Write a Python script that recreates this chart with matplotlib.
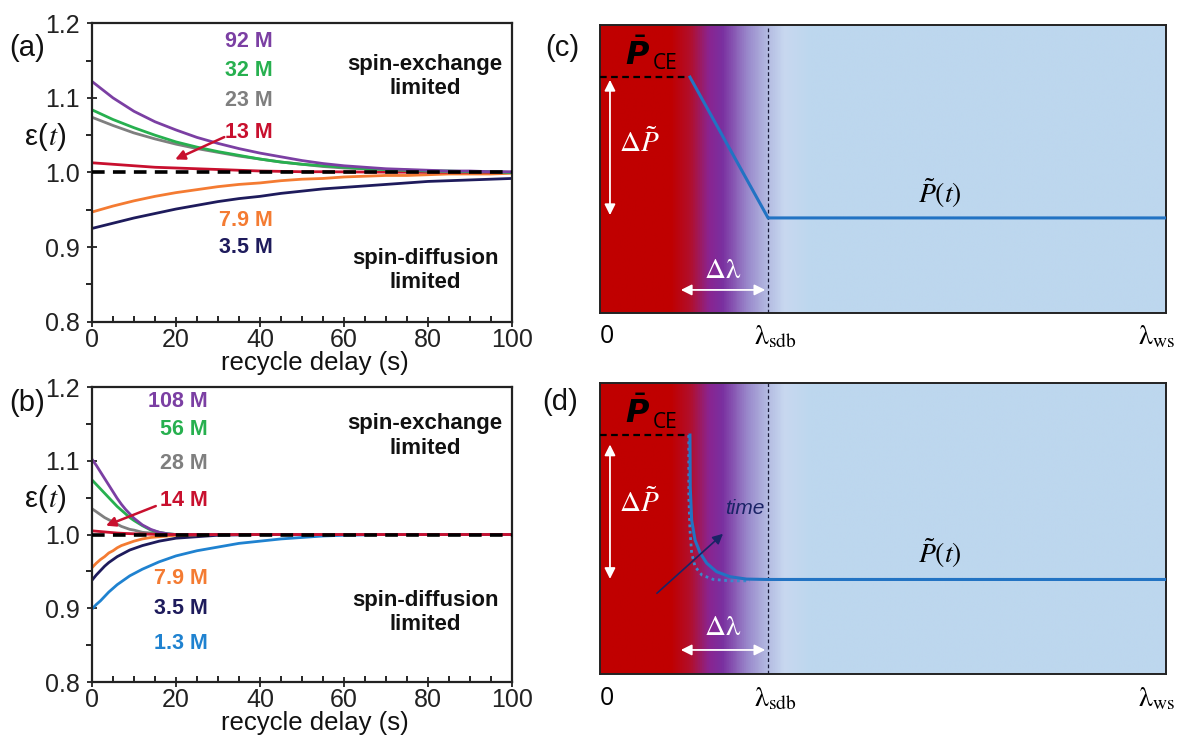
import matplotlib
matplotlib.use("Agg")
import matplotlib.pyplot as plt
import numpy as np
from matplotlib.colors import LinearSegmentedColormap

# ---------------- data ----------------
t_a = [0, 5, 10, 15, 20, 25, 30, 35, 40, 45, 50, 55, 60, 65, 70, 75, 80, 85, 90, 95, 100]
a_92M = [1.122, 1.100, 1.082, 1.068, 1.057, 1.047, 1.039, 1.032, 1.026, 1.021, 1.016, 1.012, 1.009,
         1.007, 1.005, 1.004, 1.003, 1.002, 1.002, 1.001, 1.001]
a_32M = [1.084, 1.071, 1.060, 1.050, 1.041, 1.034, 1.028, 1.023, 1.018, 1.014, 1.011, 1.009, 1.007,
         1.005, 1.004, 1.003, 1.002, 1.002, 1.001, 1.001, 1.000]
a_23M = [1.074, 1.063, 1.053, 1.045, 1.038, 1.032, 1.027, 1.022, 1.018, 1.014, 1.011, 1.008, 1.006,
         1.005, 1.004, 1.003, 1.002, 1.001, 1.001, 1.001, 1.000]
a_13M = [1.013, 1.011, 1.009, 1.007, 1.006, 1.005, 1.004, 1.003, 1.002, 1.0015, 1.001, 1.001, 1.0008,
         1.0006, 1.0005, 1.0004, 1.0003, 1.0002, 1.0002, 1.0001, 1.0001]
a_7p9M = [0.947, 0.955, 0.962, 0.968, 0.973, 0.977, 0.981, 0.984, 0.986, 0.989, 0.991, 0.992, 0.994,
          0.995, 0.996, 0.996, 0.997, 0.998, 0.998, 0.998, 0.999]
a_3p5M = [0.925, 0.932, 0.939, 0.945, 0.951, 0.956, 0.961, 0.965, 0.968, 0.972, 0.975, 0.978, 0.980,
          0.982, 0.984, 0.986, 0.988, 0.989, 0.990, 0.991, 0.992]

t_b = [0, 1, 2, 3, 4, 5, 6, 7, 8, 9, 10, 12, 14, 16, 18, 20, 25, 30, 35, 40, 45, 50, 55, 60, 70, 80, 90, 100]
b_108M = [1.102, 1.094, 1.085, 1.076, 1.067, 1.058, 1.049, 1.041, 1.034, 1.028, 1.022, 1.013, 1.007,
          1.003, 1.001, 1.000, 1.0, 1.0, 1.0, 1.0, 1.0, 1.0, 1.0, 1.0, 1.0, 1.0, 1.0, 1.0]
b_56M = [1.074, 1.068, 1.062, 1.056, 1.050, 1.044, 1.038, 1.033, 1.028, 1.023, 1.019, 1.012, 1.006,
         1.003, 1.001, 1.000, 1.0, 1.0, 1.0, 1.0, 1.0, 1.0, 1.0, 1.0, 1.0, 1.0, 1.0, 1.0]
b_28M = [1.035, 1.031, 1.027, 1.023, 1.020, 1.017, 1.014, 1.011, 1.009, 1.007, 1.006, 1.003, 1.002,
         1.001, 1.000, 1.000, 1.0, 1.0, 1.0, 1.0, 1.0, 1.0, 1.0, 1.0, 1.0, 1.0, 1.0, 1.0]
b_14M = [1.005, 1.0045, 1.004, 1.0035, 1.003, 1.0025, 1.002, 1.0017, 1.0014, 1.0012, 1.001, 1.0007,
         1.0004, 1.0002, 1.0001, 1.0, 1.0, 1.0, 1.0, 1.0, 1.0, 1.0, 1.0, 1.0, 1.0, 1.0, 1.0, 1.0]
b_7p9M = [0.955, 0.961, 0.966, 0.970, 0.975, 0.978, 0.982, 0.985, 0.987, 0.989, 0.991, 0.994, 0.996,
          0.997, 0.998, 0.999, 0.9995, 1.0, 1.0, 1.0, 1.0, 1.0, 1.0, 1.0, 1.0, 1.0, 1.0, 1.0]
b_3p5M = [0.938, 0.945, 0.951, 0.957, 0.962, 0.966, 0.970, 0.973, 0.976, 0.979, 0.981, 0.985, 0.988,
          0.991, 0.993, 0.995, 0.997, 0.999, 0.9995, 1.0, 1.0, 1.0, 1.0, 1.0, 1.0, 1.0, 1.0, 1.0]
b_1p3M = [0.899, 0.905, 0.910, 0.916, 0.922, 0.927, 0.932, 0.936, 0.940, 0.944, 0.947, 0.953, 0.958,
          0.963, 0.967, 0.971, 0.978, 0.983, 0.988, 0.991, 0.994, 0.996, 0.998, 0.999, 1.0, 1.0, 1.0, 1.0]

labels_a = ["92 M", "32 M", "23 M", "13 M", "7.9 M", "3.5 M"]
labels_a_y = [1.175, 1.137, 1.097, 1.053, 0.936, 0.899]
labels_b = ["108 M", "56 M", "28 M", "14 M", "7.9 M", "3.5 M", "1.3 M"]
labels_b_y = [1.181, 1.142, 1.096, 1.046, 0.941, 0.900, 0.852]

# schematic profiles (normalised depth λ/λ_ws, normalised polarization)
c_lam = [0.159, 0.297, 1.0]
c_pol = [0.819, 0.330, 0.330]
d_lam = [0.159, 0.1595, 0.162, 0.168, 0.177, 0.1885, 0.206, 0.230, 0.259, 0.2945, 1.0]
d_pol = [0.821, 0.643, 0.529, 0.460, 0.416, 0.381, 0.3515, 0.334, 0.326, 0.3247, 0.3247]
d2_lam = [0.157, 0.157, 0.159, 0.162, 0.168, 0.180, 0.200, 0.230, 0.265]
d2_pol = [0.821, 0.609, 0.495, 0.416, 0.369, 0.340, 0.325, 0.320, 0.320]
lam_sdb = 0.297
grad_pos = [0.0, 0.124, 0.16, 0.19, 0.215, 0.26, 0.296, 0.325, 0.37, 1.0]
grad_col = ["#C00000", "#C00000", "#B01030", "#8A2490", "#7A30A0", "#9A8ACC", "#B4BCE2",
            "#C8D8F0", "#BDD7EE", "#BDD7EE"]

# ---------------- style ----------------
SANS = ["Liberation Sans", "DejaVu Sans"]
plt.rcParams["font.family"] = SANS
C_PUR, C_GRN, C_GRY, C_RED = "#7B3FA3", "#27B04F", "#7F7F7F", "#C8102E"
C_ORG, C_NAV, C_BLU = "#F47B32", "#1E1B5C", "#1F82D0"

fig = plt.figure(figsize=(11.81, 7.39), dpi=100)
ax_a = fig.add_axes([0.0779, 0.5647, 0.3556, 0.4038])
ax_b = fig.add_axes([0.0779, 0.0771, 0.3556, 0.3992])
ax_c = fig.add_axes([0.5080, 0.5765, 0.4793, 0.3897])
ax_d = fig.add_axes([0.5080, 0.0880, 0.4793, 0.3938])


def style_eps_axes(ax):
    ax.set_xlim(0, 100)
    ax.set_ylim(0.8, 1.2)
    ax.set_xticks([0, 20, 40, 60, 80, 100])
    ax.set_yticks([0.8, 0.9, 1.0, 1.1, 1.2])
    ax.set_xticks(np.arange(0, 101, 5), minor=True)
    ax.set_yticks([0.85, 0.95, 1.05, 1.15], minor=True)
    ax.set_yticklabels(["0.8", "0.9", "1.0", "1.1", "1.2"])
    ax.tick_params(axis="both", which="major", labelsize=18, width=1.3, length=7,
                   direction="inout", colors="#222222")
    ax.tick_params(axis="x", which="minor", direction="in", length=4, width=1.2)
    ax.tick_params(axis="y", which="minor", direction="out", length=4, width=1.2)
    ax.tick_params(axis="x", pad=1)
    ax.tick_params(axis="y", pad=5)
    for s in ax.spines.values():
        s.set_linewidth(1.6)
        s.set_color("#222222")
    ax.text(0.53, -0.138, "recycle delay (s)", transform=ax.transAxes, ha="center",
            va="center", fontsize=18.5, color="#111111")
    ax.text(-0.105, 0.62, "ε(", transform=ax.transAxes, ha="right", va="center",
            fontsize=21, color="#111111")
    ax.text(-0.105, 0.62, r"$t$)", transform=ax.transAxes, ha="left", va="center",
            fontsize=21, color="#111111", math_fontfamily="stix")


# ---------------- panel (a) ----------------
ax = ax_a
for y, c in [(a_3p5M, C_NAV), (a_7p9M, C_ORG), (a_13M, C_RED), (a_23M, C_GRY),
             (a_32M, C_GRN), (a_92M, C_PUR)]:
    ax.plot(t_a, y, color=c, lw=2.0, solid_capstyle="round")
ax.axhline(1.0, color="black", lw=2.6, ls=(0, (3.5, 2.3)), zorder=5)
style_eps_axes(ax)
for lab, yy, c in zip(labels_a, labels_a_y, [C_PUR, C_GRN, C_GRY, C_RED, C_ORG, C_NAV]):
    ax.text(43.1, yy, lab, color=c, fontsize=15.5, fontweight="bold", ha="right", va="center")
ax.annotate("", xy=(19.2, 1.016), xytext=(32.1, 1.049),
            arrowprops=dict(arrowstyle="-|>", color=C_RED, lw=1.8, mutation_scale=14))
ax.text(79.3, 1.129, "spin-exchange\nlimited", ha="center", va="center", fontsize=16,
        fontweight="bold", color="#111111", linespacing=1.2)
ax.text(79.3, 0.869, "spin-diffusion\nlimited", ha="center", va="center", fontsize=16,
        fontweight="bold", color="#111111", linespacing=1.2)

# ---------------- panel (b) ----------------
ax = ax_b
for y, c in [(b_1p3M, C_BLU), (b_3p5M, C_NAV), (b_7p9M, C_ORG), (b_28M, C_GRY),
             (b_56M, C_GRN), (b_108M, C_PUR), (b_14M, C_RED)]:
    ax.plot(t_b, y, color=c, lw=2.0, solid_capstyle="round")
ax.axhline(1.0, color="black", lw=2.6, ls=(0, (3.5, 2.3)), zorder=5)
style_eps_axes(ax)
for lab, yy, c in zip(labels_b, labels_b_y, [C_PUR, C_GRN, C_GRY, C_RED, C_ORG, C_NAV, C_BLU]):
    ax.text(27.6, yy, lab, color=c, fontsize=15.5, fontweight="bold", ha="right", va="center")
ax.annotate("", xy=(2.7, 1.0106), xytext=(15.8, 1.040),
            arrowprops=dict(arrowstyle="-|>", color=C_RED, lw=1.8, mutation_scale=14))
ax.text(79.3, 1.1336, "spin-exchange\nlimited", ha="center", va="center", fontsize=16,
        fontweight="bold", color="#111111", linespacing=1.2)
ax.text(79.3, 0.894, "spin-diffusion\nlimited", ha="center", va="center", fontsize=16,
        fontweight="bold", color="#111111", linespacing=1.2)

# ---------------- panels (c), (d) ----------------
cmap = LinearSegmentedColormap.from_list("grad", list(zip(grad_pos, grad_col)))
grad = np.linspace(0, 1, 1000).reshape(1, -1)

LINE = "#2273C3"


def schematic(ax, ce_y, dp_top, dp_bot, dp_label_y, dl_y, dl_label_y):
    ax.imshow(grad, extent=[0, 1, 0, 1], aspect="auto", cmap=cmap, origin="lower",
              interpolation="bilinear", zorder=0)
    ax.set_xlim(0, 1)
    ax.set_ylim(0, 1)
    ax.set_xticks([])
    ax.set_yticks([])
    for s in ax.spines.values():
        s.set_linewidth(1.4)
        s.set_color("#222222")
    ax.axvline(lam_sdb, color="#1a1a3a", lw=0.9, ls=(0, (3, 2)), zorder=2)
    ax.plot([0, 0.159], [ce_y, ce_y], color="black", lw=1.6, ls=(0, (3, 2)), zorder=3)
    ax.annotate("", xy=(0.0177, dp_top), xytext=(0.0177, dp_bot),
                arrowprops=dict(arrowstyle="<|-|>", color="white", lw=1.3, mutation_scale=16))
    ax.text(0.07, dp_label_y, r"$\Delta\tilde{P}$", color="white", fontsize=21,
            ha="center", va="center", math_fontfamily="stix")
    ax.annotate("", xy=(0.138, dl_y), xytext=(lam_sdb, dl_y),
                arrowprops=dict(arrowstyle="<|-|>", color="white", lw=1.3, mutation_scale=16))
    ax.text(0.217, dl_label_y, r"$\Delta\mathrm{\lambda}$", color="white", fontsize=21,
            ha="center", va="center", math_fontfamily="stix")
    ax.text(0.045, 0.895, r"$\bar{\mathbfit{P}}$", color="black", fontsize=23,
            ha="left", va="center", math_fontfamily="dejavusans")
    ax.text(0.093, 0.865, "CE", color="black", fontsize=15, ha="left", va="center",
            family=["Open Sans", "DejaVu Sans"])
    ax.text(0.6, 0.415, r"$\tilde{P}(t)$", color="black", fontsize=20, ha="center",
            va="center", math_fontfamily="stix")
    ax.text(0.012, -0.083, "0", transform=ax.transAxes, ha="center", va="center",
            fontsize=18, family=["Open Sans", "DejaVu Sans"], clip_on=False)
    ax.text(0.31, -0.085, r"$\mathrm{\lambda}_{\mathrm{sdb}}$", transform=ax.transAxes,
            ha="center", va="center", fontsize=20, math_fontfamily="stix", clip_on=False)
    ax.text(0.984, -0.085, r"$\mathrm{\lambda}_{\mathrm{ws}}$", transform=ax.transAxes,
            ha="center", va="center", fontsize=20, math_fontfamily="stix", clip_on=False)


schematic(ax_c, 0.819, 0.819, 0.330, 0.59, 0.08, 0.15)
ax_c.plot(c_lam, c_pol, color=LINE, lw=2.2, zorder=4, solid_joinstyle="miter")

schematic(ax_d, 0.821, 0.798, 0.317, 0.588, 0.0825, 0.16)
ax_d.plot(d2_lam, d2_pol, color="#3A88CC", lw=2.0, ls=(0, (1, 1.3)), zorder=4)
ax_d.plot(d_lam, d_pol, color=LINE, lw=2.2, zorder=4)
ax_d.annotate("", xy=(0.221, 0.488), xytext=(0.097, 0.271),
              arrowprops=dict(arrowstyle="-|>", color="#1A2366", lw=1.2, mutation_scale=15),
              zorder=5)
ax_d.text(0.256, 0.57, "time", color="#1A2366", fontsize=15, style="italic",
          ha="center", va="center")

# panel letters
for x, y, s in [(0.023, 0.935, "(a)"), (0.023, 0.455, "(b)"), (0.476, 0.935, "(c)"),
                (0.474, 0.456, "(d)")]:
    fig.text(x, y, s, fontsize=21, ha="center", va="center", color="#111111")

fig.savefig("out.png", dpi=100)
